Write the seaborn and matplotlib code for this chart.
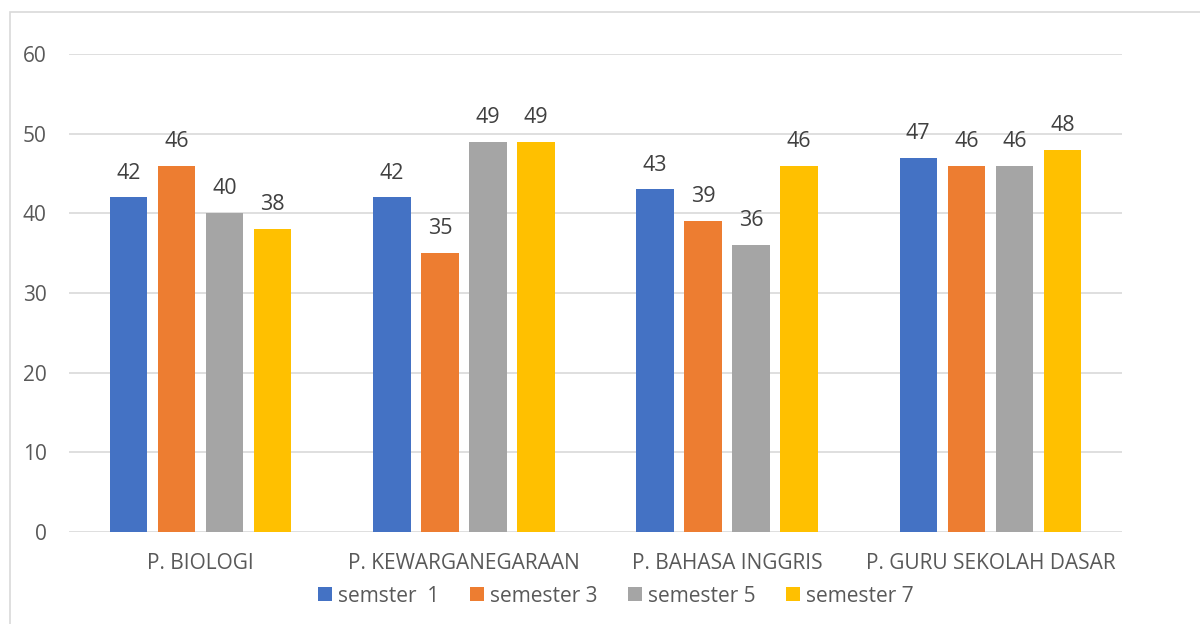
# Grouped bar chart - scores per study programme and semester
import seaborn as sns
import matplotlib.pyplot as plt
import pandas as pd
from matplotlib.patches import Rectangle

programs = ['P. BIOLOGI', 'P. KEWARGANEGARAAN', 'P. BAHASA INGGRIS', 'P. GURU SEKOLAH DASAR']
semesters = ['semster  1', 'semester 3', 'semester 5', 'semester 7']
sem1 = [42, 42, 43, 47]
sem3 = [46, 35, 39, 46]
sem5 = [40, 49, 36, 46]
sem7 = [38, 49, 46, 48]
colors = ['#4472C4', '#ED7D31', '#A5A5A5', '#FFC000']

rows = []
for sem, vals in zip(semesters, [sem1, sem3, sem5, sem7]):
    for prog, v in zip(programs, vals):
        rows.append({'program': prog, 'semester': sem, 'value': v})
df = pd.DataFrame(rows)

sns.set_style('white')
plt.rcParams['font.family'] = ['Open Sans', 'DejaVu Sans']
text_col = '#595959'

fig = plt.figure(figsize=(12, 6.24), dpi=100)
ax = fig.add_axes([69/1200, 1 - 532/624, (1122 - 69)/1200, (532 - 54)/624])

sns.barplot(data=df, x='program', y='value', hue='semester', order=programs,
            hue_order=semesters, palette=colors, width=0.73, gap=0.22,
            saturation=1, linewidth=0, ax=ax, legend=True)

for c in ax.containers:
    ax.bar_label(c, padding=10, fontsize=15.5, color='#404040')

ax.set_ylim(0, 60)
ax.set_yticks(range(0, 61, 10))
ax.yaxis.grid(True, color='#D9D9D9', linewidth=1.2)
ax.set_axisbelow(True)
for s in ax.spines.values():
    s.set_visible(False)
ax.set_xlabel('')
ax.set_ylabel('')
ax.tick_params(axis='y', length=0, pad=16, labelsize=15, labelcolor=text_col)
ax.tick_params(axis='x', length=0, pad=15, labelsize=15, labelcolor=text_col)

handles, labels = ax.get_legend_handles_labels()
ax.get_legend().remove()
fig.legend(handles, labels, loc='center', bbox_to_anchor=(616/1200, 1 - 596/624),
           ncol=4, frameon=False, fontsize=15, labelcolor=text_col,
           handlelength=0.67, handleheight=0.67, handletextpad=0.3, columnspacing=1.45)

# light chart-area border (cut off on the right and bottom)
fig.patches.append(Rectangle((10/1200, -0.1), 1.2, 1 - 12/624 + 0.1,
                             transform=fig.transFigure, fill=False,
                             edgecolor='#D9D9D9', linewidth=1.2))

plt.savefig('out.png', dpi=100)
plt.close()
